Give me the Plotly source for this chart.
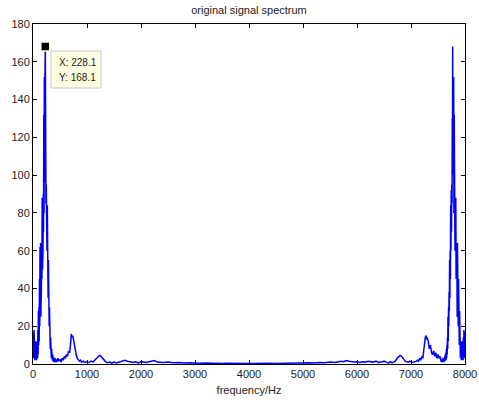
import plotly.graph_objects as go

# Spectrum samples (frequency in Hz, magnitude)
freq_low = [0, 5, 10, 15, 20, 25, 30, 35, 40, 45, 50, 55, 60, 65, 70, 75, 80, 85, 90, 95,
            100, 105, 110, 115, 120, 125, 130, 135, 140, 145, 150, 155, 160, 165, 170, 175,
            180, 185, 190, 195, 200, 205, 210, 215, 220, 225, 228.1, 232, 236, 240, 245, 250,
            255, 260, 265, 270, 275, 280, 285, 290, 295, 300, 305, 310, 315, 320, 325, 330,
            335, 340, 345, 350, 355, 360, 365, 370, 375, 380, 385, 390, 395, 400, 410, 420,
            430, 440]
amp_low = [12, 3, 17, 5, 18, 4, 14, 2, 10, 4, 12, 3, 8, 2, 7, 4, 12, 3, 18, 5,
           28, 10, 30, 12, 45, 20, 62, 30, 64, 25, 63, 40, 58, 45, 88, 50,
           86, 60, 90, 70, 132, 80, 152, 96, 150, 120, 168.1, 100, 130, 85, 95, 70,
           92, 60, 84, 45, 60, 35, 55, 28, 38, 20, 30, 12, 25, 8, 14, 5,
           10, 3, 8, 2, 6, 2, 5, 1.5, 4, 2, 3.5, 1, 3, 1.5, 3, 1,
           2.5, 1]

freq_mid_left = [460, 480, 500, 520, 540, 560, 580, 600, 620, 640, 660, 680, 700, 710, 720, 735,
                 750, 765, 780, 800, 820, 840, 860, 880, 900, 930, 960, 990, 1020, 1050, 1080,
                 1110, 1140, 1170, 1200, 1230, 1260, 1290, 1320, 1350, 1380, 1420, 1460, 1500,
                 1550, 1600, 1650, 1700, 1750, 1800, 1850, 1900, 1950, 2000, 2050, 2100, 2150,
                 2200, 2250, 2300, 2400, 2500, 2600, 2700, 2800, 2900, 3000, 3100, 3200, 3300,
                 3400, 3500, 3600, 3700, 3800, 3900, 4000]
amp_mid_left = [3, 1.5, 2.5, 1, 3, 2, 4, 3, 5, 4, 7, 6, 12, 16, 14, 15,
                13, 10, 8, 5, 3, 2, 1.5, 2, 1, 1.5, 0.8, 1.2, 0.8, 1, 1.5,
                1, 2, 3, 4, 4.5, 4, 3, 1.5, 1, 0.7, 1, 0.5, 1,
                0.6, 1, 1.5, 2, 1.5, 1, 0.8, 1.2, 0.6, 1.2, 1, 0.8, 1.2,
                1.5, 1.8, 1, 0.8, 1, 0.7, 0.8, 0.5, 0.7, 0.5, 0.4, 0.5, 0.3,
                0.4, 0.3, 0.4, 0.3, 0.4, 0.3, 0.3]

freq_mid_right = [4100, 4200, 4300, 4400, 4500, 4600, 4700, 4800, 4900, 5000, 5100, 5200, 5300,
                  5400, 5500, 5600, 5700, 5750, 5800, 5850, 5900, 5950, 6000, 6050, 6100, 6150,
                  6200, 6250, 6300, 6350, 6400, 6450, 6500, 6540, 6580, 6620, 6650, 6680, 6710,
                  6740, 6770, 6800, 6830, 6860, 6890, 6920, 6950, 6980, 7010, 7040, 7070, 7100,
                  7120, 7140, 7160, 7180, 7200, 7220, 7235, 7250, 7265, 7280, 7290, 7300, 7320,
                  7340, 7360, 7380, 7400, 7420, 7440, 7460, 7480, 7500, 7520, 7540]
amp_mid_right = [0.3, 0.4, 0.3, 0.4, 0.3, 0.4, 0.3, 0.5, 0.4, 0.5, 0.7, 0.5, 0.8,
                 0.7, 1, 0.8, 1.5, 1.2, 1.8, 1.5, 1.2, 1, 1.2, 0.8, 1.2, 1,
                 1.5, 1.2, 1, 1.5, 0.8, 1, 1.5, 1, 0.6, 1.2, 0.7, 1, 1.5,
                 3, 4, 4.5, 4, 3, 1.5, 1.2, 1, 1.5, 0.8, 1, 1.2, 1.5,
                 2, 1.5, 3, 2, 4, 3, 7, 12, 14, 15, 13, 14, 12,
                 8, 10, 6, 5, 7, 4, 6, 3, 5, 3, 4]

freq_high = [7560, 7570, 7580, 7590, 7600, 7605, 7610, 7615, 7620, 7625, 7630, 7635, 7640,
             7645, 7650, 7655, 7660, 7665, 7670, 7675, 7680, 7685, 7690, 7695, 7700, 7705,
             7710, 7715, 7720, 7725, 7730, 7735, 7740, 7745, 7750, 7755, 7760, 7764, 7768,
             7771.9, 7775, 7780, 7785, 7790, 7795, 7800, 7805, 7810, 7815, 7820, 7825, 7830,
             7835, 7840, 7845, 7850, 7855, 7860, 7865, 7870, 7875, 7880, 7885, 7890, 7895,
             7900, 7905, 7910, 7915, 7920, 7925, 7930, 7935, 7940, 7945, 7950, 7955, 7960,
             7965, 7970, 7975, 7980, 7985, 7990, 7995, 8000]
amp_high = [1, 2.5, 1, 3, 1.5, 3, 1, 3.5, 2, 4, 1.5, 5, 2,
            6, 2, 8, 3, 10, 5, 14, 8, 25, 12, 30, 20, 38,
            28, 55, 35, 60, 45, 84, 60, 92, 70, 95, 85, 130, 100,
            168.1, 120, 150, 96, 152, 80, 132, 70, 90, 60, 86, 50, 88,
            45, 58, 40, 63, 25, 64, 30, 62, 20, 45, 12, 30, 10,
            28, 5, 18, 3, 12, 4, 7, 2, 8, 3, 12, 4, 10,
            2, 14, 4, 18, 5, 17, 3, 12]

freq = freq_low + freq_mid_left + freq_mid_right + freq_high
amp = amp_low + amp_mid_left + amp_mid_right + amp_high

tip_x = [228.1]
tip_y = [168.1]
tip_lines = ["X: 228.1", "Y: 168.1"]

x_ticks = [0, 1000, 2000, 3000, 4000, 5000, 6000, 7000, 8000]
y_ticks = [0, 20, 40, 60, 80, 100, 120, 140, 160, 180]

FONT = "Liberation Sans, Arial, sans-serif"

fig = go.Figure()
fig.add_trace(go.Scatter(x=freq, y=amp, mode="lines",
                         line=dict(color="#0000FF", width=1.5), showlegend=False,
                         hoverinfo="skip"))

# data tip box
fig.add_shape(type="rect", xref="x", yref="y", x0=333, x1=1259, y0=146.1, y1=165.7,
              fillcolor="#FFFFE1", line=dict(color="#C8C8C8", width=1), layer="above")
fig.add_annotation(x=444, y=159.8, xref="x", yref="y", xanchor="left", yanchor="middle",
                   text=tip_lines[0], showarrow=False,
                   font=dict(family=FONT, size=10, color="#222222"))
fig.add_annotation(x=444, y=151.6, xref="x", yref="y", xanchor="left", yanchor="middle",
                   text=tip_lines[1], showarrow=False,
                   font=dict(family=FONT, size=10, color="#222222"))

fig.add_trace(go.Scatter(x=tip_x, y=tip_y, mode="markers",
                         marker=dict(symbol="square", size=9, color="black",
                                     line=dict(color="#FFFFE1", width=1.5)),
                         showlegend=False, hoverinfo="skip"))

axis_common = dict(showline=True, linecolor="black", linewidth=1, mirror="ticks",
                   ticks="inside", ticklen=4, tickcolor="black", showgrid=False,
                   zeroline=False, automargin=False,
                   tickfont=dict(family=FONT, size=11, color="#222222"))

fig.update_xaxes(range=[0, 8000], tickvals=x_ticks, ticktext=[str(v) for v in x_ticks],
                 title=dict(text="frequency/Hz", standoff=7,
                            font=dict(family=FONT, size=11, color="#222222")),
                 **axis_common)
fig.update_yaxes(range=[0, 180], tickvals=y_ticks, ticktext=[str(v) for v in y_ticks],
                 **axis_common)

fig.update_layout(
    width=479, height=404,
    margin=dict(l=33, r=14, t=24, b=40),
    paper_bgcolor="white", plot_bgcolor="white",
    title=dict(text="original signal spectrum", x=(33 + 465) / 2 / 479, xanchor="center",
               y=1 - 10 / 404, yanchor="middle",
               font=dict(family=FONT, size=11, color="#222222")),
)

fig.write_html("out.html")
